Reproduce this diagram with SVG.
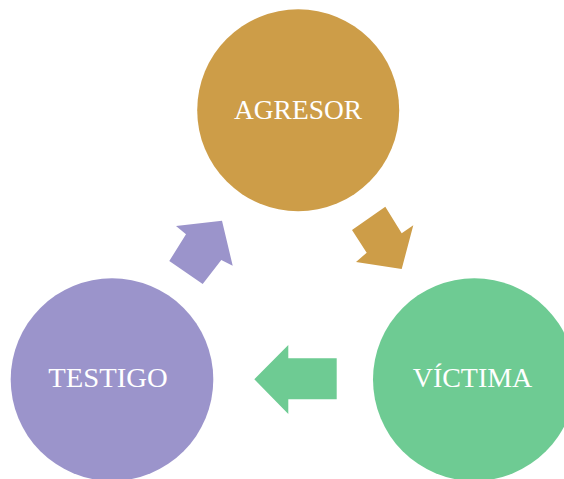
<svg xmlns="http://www.w3.org/2000/svg" width="564" height="479" viewBox="0 0 564 479">
<style>
.lbl{font-family:"Liberation Serif","DejaVu Serif",serif;font-size:27px;fill:#ffffff;text-anchor:middle}
.gold{fill:#CD9D48}
.purple{fill:#9B94CB}
.green{fill:#6ECB93}
</style>
<rect width="564" height="479" fill="#ffffff"/>
<g id="connectors">
<polygon class="gold" points="385.3,206.7 352,230 366.7,252.7 356,262 401.7,269 413.3,225.3 401.7,233.3"/>
<polygon class="green" points="254.3,379.3 288.3,345 288.3,358.3 336.7,358.3 336.7,399.3 288.3,399.3 288.3,414"/>
<polygon class="purple" points="222,220.7 176,226 186,234.3 169.3,261 202.7,284 221.3,260 232.7,265.7"/>
</g>
<g id="agresor">
<circle class="gold" cx="298.2" cy="110.2" r="101"/>
<text class="lbl" x="298" y="119" textLength="128" lengthAdjust="spacingAndGlyphs">AGRESOR</text>
</g>
<g id="victima">
<circle class="green" cx="474.3" cy="379.6" r="101.3"/>
<text class="lbl" x="472.5" y="386.7" textLength="119.6" lengthAdjust="spacingAndGlyphs">VÍCTIMA</text>
</g>
<g id="testigo">
<circle class="purple" cx="112" cy="379.6" r="101.3"/>
<text class="lbl" x="108" y="386.7" textLength="119.4" lengthAdjust="spacingAndGlyphs">TESTIGO</text>
</g>
</svg>
